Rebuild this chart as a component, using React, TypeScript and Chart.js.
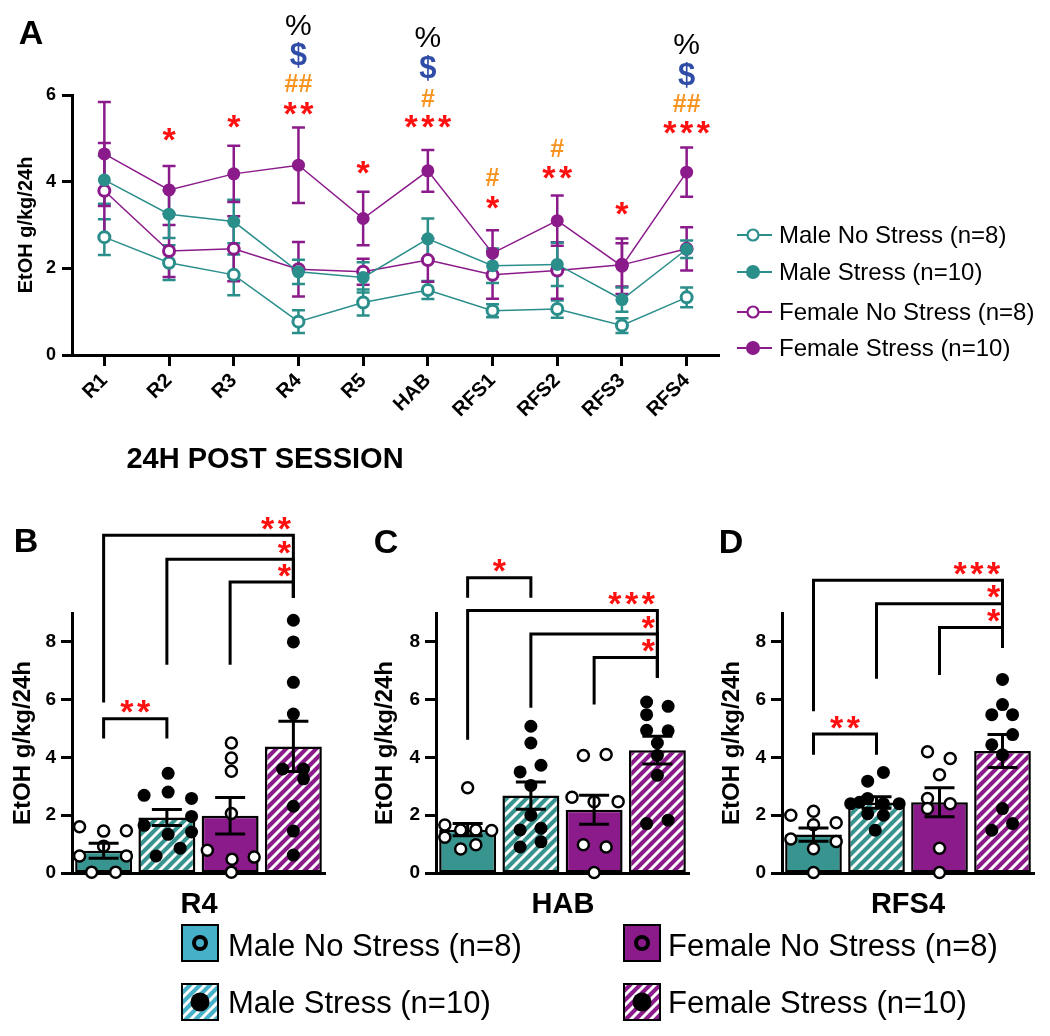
import React, { useEffect, useRef } from 'react';
import { Chart, registerables } from 'chart.js';

Chart.register(...registerables);

const FONT = '"Liberation Sans", Arial, Helvetica, sans-serif';
const TEAL = '#2A8E8B';
const PURPLE = '#8B1A8B';
const BAR_TEAL = '#37948F';
const LEGEND_CYAN = '#46B0C8';
const RED = '#FF1010';
const ORANGE = '#F7931E';
const BLUE = '#2F4CA6';

// ---------------- Panel A data ----------------
const sessions = ['R1', 'R2', 'R3', 'R4', 'R5', 'HAB', 'RFS1', 'RFS2', 'RFS3', 'RFS4'];
const groupLabels = ['Male No Stress (n=8)', 'Male Stress (n=10)', 'Female No Stress (n=8)', 'Female Stress (n=10)'];

const maleNoStressMean = [2.72, 2.13, 1.85, 0.77, 1.21, 1.5, 1.02, 1.06, 0.68, 1.33];
const maleNoStressSem = [0.41, 0.4, 0.47, 0.26, 0.3, 0.21, 0.15, 0.2, 0.17, 0.23];
const maleStressMean = [4.04, 3.25, 3.08, 1.92, 1.79, 2.68, 2.06, 2.09, 1.28, 2.44];
const maleStressSem = [0.55, 0.55, 0.5, 0.28, 0.35, 0.47, 0.4, 0.5, 0.28, 0.2];
const femaleNoStressMean = [3.79, 2.4, 2.45, 1.98, 1.92, 2.19, 1.85, 1.95, 2.08, 2.45];
const femaleNoStressSem = [1.1, 0.6, 0.75, 0.63, 0.3, 0.5, 0.55, 0.65, 0.5, 0.5];
const femaleStressMean = [4.64, 3.81, 4.18, 4.38, 3.15, 4.25, 2.35, 3.1, 2.05, 4.22];
const femaleStressSem = [1.2, 0.55, 0.65, 0.87, 0.62, 0.48, 0.53, 0.58, 0.64, 0.57];

// significance marks above sessions (session index, symbol, level in y units)
const markSession = [1, 2, 3, 3, 3, 3, 4, 5, 5, 5, 5, 6, 6, 7, 7, 8, 9, 9, 9, 9];
const markText = ['*', '*', '%', '$', '##', '**', '*', '%', '$', '#', '***', '#', '*', '#', '**', '*', '%', '$', '##', '***'];
const markLevel = [5.08, 5.38, 7.62, 6.92, 6.28, 5.7, 4.32, 7.34, 6.62, 5.93, 5.38, 4.11, 3.53, 4.78, 4.22, 3.39, 7.18, 6.46, 5.82, 5.26];

// ---------------- Panel B (R4) individual values ----------------
const r4MaleNoStress = [1.6, 1.45, 1.46, 0.93, 0.59, 0.59, 0.03, 0.03];
const r4MaleNoStressJitter = [-0.38, 0, 0.36, 0, -0.38, 0.36, -0.19, 0.19];
const r4MaleStress = [3.45, 2.69, 2.8, 2.58, 1.96, 1.65, 1.34, 1.42, 0.86, 0.59];
const r4MaleStressJitter = [0.02, -0.36, 0.02, 0.39, 0.39, -0.36, 0.02, 0.39, 0.21, -0.17];
const r4FemaleNoStress = [4.5, 3.98, 3.52, 2.06, 0.79, 0.48, 0.55, 0.03];
const r4FemaleNoStressJitter = [0.02, 0.02, 0.02, 0.02, -0.36, 0.03, 0.38, 0.02];
const r4FemaleStress = [8.75, 8.0, 6.6, 5.5, 3.6, 3.6, 3.26, 2.31, 1.45, 0.62];
const r4FemaleStressJitter = [0, 0, 0, 0, -0.17, 0.16, 0.16, 0, 0, 0];
// brackets: [from group, to group, level, left leg end, right leg end, label]
const r4Brackets = [
  [0, 1, 5.34, 4.66, 4.66, '**'],
  [0, 3, 11.69, 5.9, 9.52, '**'],
  [1, 3, 10.86, 7.21, 9.52, '*'],
  [2, 3, 10.07, 7.21, 9.52, '*'],
];

// ---------------- Panel C (HAB) ----------------
const habMaleNoStress = [2.95, 1.66, 1.49, 1.49, 1.47, 1.24, 0.83, 0.98];
const habMaleNoStressJitter = [0, -0.36, -0.11, 0.13, 0.38, -0.36, -0.11, 0.13];
const habMaleStress = [5.08, 4.5, 3.5, 3.73, 3.03, 2.0, 1.49, 1.55, 0.9, 1.08];
const habMaleStressJitter = [0, 0, -0.17, 0.16, 0, 0, -0.17, 0.16, -0.17, 0.16];
const habFemaleNoStress = [4.07, 4.1, 2.62, 2.47, 2.47, 0.98, 0.9, 0.02];
const habFemaleNoStressJitter = [-0.17, 0.19, -0.35, 0, 0.38, -0.17, 0.19, 0];
const habFemaleStress = [5.92, 5.77, 5.48, 4.94, 4.92, 4.5, 4.07, 3.38, 1.71, 1.83];
const habFemaleStressJitter = [-0.17, 0.17, -0.17, -0.17, 0.17, 0, 0, 0, -0.17, 0.17];
const habBrackets = [
  [0, 1, 10.22, 9.53, 9.53, '*'],
  [0, 3, 9.09, 4.61, 6.76, '***'],
  [1, 3, 8.27, 5.72, 6.76, '*'],
  [2, 3, 7.46, 5.83, 6.76, '*'],
];

// ---------------- Panel D (RFS4) ----------------
const rfs4MaleNoStress = [2.0, 2.14, 1.74, 1.67, 1.18, 1.09, 0.84, 0.02];
const rfs4MaleNoStressJitter = [-0.36, 0, 0.36, 0, -0.36, 0.36, 0, 0];
const rfs4MaleStress = [3.48, 3.18, 2.4, 2.58, 2.4, 2.4, 2.05, 2.0, 1.48, 2.45];
const rfs4MaleStressJitter = [0.11, -0.14, -0.41, -0.14, 0.11, 0.36, -0.14, 0.11, -0.02, -0.27];
const rfs4FemaleNoStress = [4.2, 3.96, 3.4, 2.58, 2.4, 2.23, 0.86, 0.02];
const rfs4FemaleNoStressJitter = [-0.19, 0.17, 0, -0.19, 0.17, -0.19, 0, 0];
const rfs4FemaleStress = [6.7, 5.83, 5.48, 5.48, 4.79, 4.44, 4.09, 2.23, 1.48, 1.71];
const rfs4FemaleStressJitter = [0, 0, -0.17, 0.16, 0.16, -0.17, 0, 0, -0.17, 0.16];
const rfs4Brackets = [
  [0, 1, 4.81, 4.09, 4.09, '**'],
  [0, 3, 10.13, 5.6, 7.8, '***'],
  [1, 3, 9.32, 6.72, 7.8, '*'],
  [2, 3, 8.5, 6.85, 7.8, '*'],
];

const meansAt = (idx: number) => [maleNoStressMean[idx], maleStressMean[idx], femaleNoStressMean[idx], femaleStressMean[idx]];
const semsAt = (idx: number) => [maleNoStressSem[idx], maleStressSem[idx], femaleNoStressSem[idx], femaleStressSem[idx]];

// ---------------- drawing helpers ----------------
function markStyle(t: string) {
  const c = t[0];
  if (c === '*') return { font: `bold 34px ${FONT}`, color: RED, step: 16.7 };
  if (c === '#') return { font: `bold 25px ${FONT}`, color: ORANGE, step: 14 };
  if (c === '$') return { font: `bold 31px ${FONT}`, color: BLUE, step: 17 };
  return { font: `30px ${FONT}`, color: '#000', step: 27 };
}

function drawMark(ctx: CanvasRenderingContext2D, text: string, cx: number, cy: number) {
  const st = markStyle(text);
  ctx.save();
  ctx.font = st.font;
  ctx.fillStyle = st.color;
  ctx.textAlign = 'center';
  ctx.textBaseline = 'alphabetic';
  const m = ctx.measureText(text[0]);
  const base = cy + (m.actualBoundingBoxAscent - m.actualBoundingBoxDescent) / 2;
  const n = text.length;
  for (let i = 0; i < n; i++) ctx.fillText(text[i], cx + (i - (n - 1) / 2) * st.step, base);
  ctx.restore();
}

function makeHatch(color: string) {
  const c = document.createElement('canvas');
  c.width = 10;
  c.height = 10;
  const g = c.getContext('2d')!;
  g.fillStyle = color;
  g.fillRect(0, 0, 10, 10);
  g.strokeStyle = '#fff';
  g.lineWidth = 3;
  g.beginPath();
  g.moveTo(-5, 5); g.lineTo(5, -5);
  g.moveTo(0, 10); g.lineTo(10, 0);
  g.moveTo(5, 15); g.lineTo(15, 5);
  g.stroke();
  return g.createPattern(c, 'repeat');
}

const axisCommon = {
  grid: { display: true, drawOnChartArea: false, drawTicks: true, tickLength: 10, tickWidth: 3, tickColor: '#000' },
  border: { display: true, color: '#000', width: 3 },
};

// ---------------- Panel A config ----------------
const semsA = [maleNoStressSem, maleStressSem, femaleNoStressSem, femaleStressSem];
const colorsA = [TEAL, TEAL, PURPLE, PURPLE];

const errorBarsA = {
  id: 'errorBarsA',
  beforeDatasetsDraw(chart: any) {
    const { ctx, scales } = chart;
    const x = scales.x, y = scales.y;
    [0, 2, 1, 3].forEach((di) => {
      const data = chart.data.datasets[di].data as number[];
      ctx.save();
      ctx.strokeStyle = colorsA[di];
      ctx.lineWidth = 2.5;
      data.forEach((m, i) => {
        const px = x.getPixelForValue(i);
        const top = y.getPixelForValue(m + semsA[di][i]);
        const bot = y.getPixelForValue(m - semsA[di][i]);
        ctx.beginPath();
        ctx.moveTo(px, top); ctx.lineTo(px, bot);
        ctx.moveTo(px - 6.5, top); ctx.lineTo(px + 6.5, top);
        ctx.moveTo(px - 6.5, bot); ctx.lineTo(px + 6.5, bot);
        ctx.stroke();
      });
      ctx.restore();
    });
  },
};

const marksA = {
  id: 'marksA',
  afterDraw(chart: any) {
    const { ctx, scales } = chart;
    markText.forEach((t, i) => {
      drawMark(ctx, t, scales.x.getPixelForValue(markSession[i]), scales.y.getPixelForValue(markLevel[i]));
    });
  },
};

function configA(): any {
  const mk = (label: string, data: number[], color: string, open: boolean, order: number) => ({
    type: 'line',
    label,
    data,
    borderColor: color,
    backgroundColor: color,
    borderWidth: 1.5,
    pointRadius: open ? 5.5 : 6.5,
    pointHoverRadius: open ? 5.5 : 6.5,
    pointBorderWidth: open ? 3 : 0,
    pointBackgroundColor: open ? '#fff' : color,
    pointBorderColor: color,
    order,
    clip: false,
  });
  return {
    type: 'line',
    data: {
      labels: sessions,
      datasets: [
        mk(groupLabels[0], maleNoStressMean, TEAL, true, 3),
        mk(groupLabels[1], maleStressMean, TEAL, false, 1),
        mk(groupLabels[2], femaleNoStressMean, PURPLE, true, 2),
        mk(groupLabels[3], femaleStressMean, PURPLE, false, 0),
      ],
    },
    options: {
      animation: false,
      responsive: false,
      events: [],
      layout: { padding: { left: 12, right: 331, top: 95, bottom: 45 } },
      plugins: { legend: { display: false }, tooltip: { enabled: false } },
      scales: {
        x: {
          type: 'category',
          offset: true,
          ...axisCommon,
          grid: { ...axisCommon.grid, tickLength: 11, offset: false },
          ticks: { color: '#000', font: { family: FONT, size: 20, weight: 'bold' }, minRotation: 45, maxRotation: 45, padding: 3, autoSkip: false },
          afterFit: (s: any) => { s.height = 80; },
        },
        y: {
          min: 0,
          max: 6,
          ...axisCommon,
          ticks: { stepSize: 2, color: '#000', font: { family: FONT, size: 18, weight: 'bold' }, padding: 6 },
          title: { display: true, text: 'EtOH g/kg/24h', color: '#000', font: { family: FONT, size: 20, weight: 'bold', lineHeight: 1 }, padding: { top: 4, bottom: 0 } },
          afterFit: (s: any) => { s.width = 60; },
        },
      },
    },
    plugins: [errorBarsA, marksA],
  };
}

// ---------------- Bar panel config ----------------
function barConfig(p: any, pats: any, padLeft: number, padRight: number, titlePad: number): any {
  const fills = [BAR_TEAL, pats.teal, PURPLE, pats.purple];
  const open = [true, false, true, false];
  const errPlugin = {
    id: 'errBars',
    afterDatasetsDraw(chart: any) {
      const { ctx, scales } = chart;
      ctx.save();
      ctx.strokeStyle = '#000';
      ctx.lineWidth = 3;
      p.means.forEach((m: number, g: number) => {
        const px = scales.x.getPixelForValue(g);
        const top = scales.y.getPixelForValue(m + p.sems[g]);
        const bot = scales.y.getPixelForValue(m - p.sems[g]);
        ctx.beginPath();
        ctx.moveTo(px, top); ctx.lineTo(px, bot);
        ctx.moveTo(px - 15, top); ctx.lineTo(px + 15, top);
        ctx.moveTo(px - 15, bot); ctx.lineTo(px + 15, bot);
        ctx.stroke();
      });
      ctx.restore();
    },
    afterDraw(chart: any) {
      const { ctx, scales } = chart;
      p.brackets.forEach((b: any[]) => {
        const [from, to, level, lEnd, rEnd, label] = b;
        const x1 = scales.x.getPixelForValue(from);
        const x2 = scales.x.getPixelForValue(to);
        const yl = scales.y.getPixelForValue(level);
        ctx.save();
        ctx.strokeStyle = '#000';
        ctx.lineWidth = 3;
        ctx.lineJoin = 'miter';
        ctx.beginPath();
        ctx.moveTo(x1, scales.y.getPixelForValue(lEnd));
        ctx.lineTo(x1, yl);
        ctx.lineTo(x2, yl);
        ctx.lineTo(x2, scales.y.getPixelForValue(rEnd));
        ctx.stroke();
        ctx.restore();
        const st = markStyle(label);
        let cx;
        if (to - from === 1 && lEnd === rEnd) cx = (x1 + x2) / 2;
        else cx = x2 - 9 - ((label.length - 1) / 2) * st.step;
        drawMark(ctx, label, cx, yl - 12);
      });
    },
  };
  return {
    type: 'bar',
    data: {
      labels: groupLabels,
      datasets: [
        {
          type: 'bar',
          data: p.means,
          backgroundColor: fills,
          borderColor: '#000',
          borderWidth: 2.5,
          borderSkipped: false,
          barPercentage: 0.9,
          categoryPercentage: 1,
          grouped: false,
          order: 5,
          xAxisID: 'x',
          yAxisID: 'y',
        },
        ...p.points.map((vals: number[], g: number) => ({
          type: 'scatter',
          data: vals.map((v, i) => ({ x: g + p.jitter[g][i], y: v })),
          xAxisID: 'xs',
          yAxisID: 'y',
          pointRadius: open[g] ? 5.5 : 6.5,
          pointHoverRadius: open[g] ? 5.5 : 6.5,
          pointBorderWidth: open[g] ? 2.5 : 0,
          pointBackgroundColor: open[g] ? '#fff' : '#000',
          pointBorderColor: '#000',
          showLine: false,
          order: 1,
          clip: false,
        })),
      ],
    },
    options: {
      animation: false,
      responsive: false,
      events: [],
      layout: { padding: { left: padLeft, right: padRight, top: 133, bottom: 27 } },
      plugins: { legend: { display: false }, tooltip: { enabled: false } },
      scales: {
        x: {
          type: 'category',
          offset: true,
          ticks: { display: false },
          grid: { display: false },
          border: { display: true, color: '#000', width: 3 },
          afterFit: (s: any) => { s.height = 0; },
        },
        xs: { type: 'linear', min: -0.5, max: 3.5, offset: false, grace: 0, display: false },
        y: {
          min: 0,
          max: 9,
          ...axisCommon,
          grid: { ...axisCommon.grid, tickLength: 11 },
          ticks: { stepSize: 2, includeBounds: false, color: '#000', font: { family: FONT, size: 19, weight: 'bold' }, padding: 5 },
          title: { display: true, text: 'EtOH g/kg/24h', color: '#000', font: { family: FONT, size: 24, weight: 'bold', lineHeight: 1 }, padding: { top: titlePad, bottom: 0 } },
          afterFit: (s: any) => { s.width = 70; },
        },
      },
    },
    plugins: [errPlugin],
  };
}

const r4Panel = {
  means: meansAt(sessions.indexOf('R4')),
  sems: semsAt(sessions.indexOf('R4')),
  points: [r4MaleNoStress, r4MaleStress, r4FemaleNoStress, r4FemaleStress],
  jitter: [r4MaleNoStressJitter, r4MaleStressJitter, r4FemaleNoStressJitter, r4FemaleStressJitter],
  brackets: r4Brackets,
};
const habPanel = {
  means: meansAt(sessions.indexOf('HAB')),
  sems: semsAt(sessions.indexOf('HAB')),
  points: [habMaleNoStress, habMaleStress, habFemaleNoStress, habFemaleStress],
  jitter: [habMaleNoStressJitter, habMaleStressJitter, habFemaleNoStressJitter, habFemaleStressJitter],
  brackets: habBrackets,
};
const rfs4Panel = {
  means: meansAt(sessions.indexOf('RFS4')),
  sems: semsAt(sessions.indexOf('RFS4')),
  points: [rfs4MaleNoStress, rfs4MaleStress, rfs4FemaleNoStress, rfs4FemaleStress],
  jitter: [rfs4MaleNoStressJitter, rfs4MaleStressJitter, rfs4FemaleNoStressJitter, rfs4FemaleStressJitter],
  brackets: rfs4Brackets,
};

// ---------------- HTML pieces ----------------
const Label = ({ x, y, size, bold = true, anchor = 'center', children }: any) => (
  <div
    style={{
      position: 'absolute',
      left: x,
      top: y,
      transform: anchor === 'center' ? 'translate(-50%,-50%)' : 'translate(0,-50%)',
      whiteSpace: 'nowrap',
      lineHeight: 1,
      fontFamily: FONT,
      fontSize: size,
      fontWeight: bold ? 700 : 400,
      color: '#000',
    }}
  >
    {children}
  </div>
);

const legendARows = [
  { color: TEAL, open: true, y: 235 },
  { color: TEAL, open: false, y: 272 },
  { color: PURPLE, open: true, y: 312 },
  { color: PURPLE, open: false, y: 348 },
];

const legendBRows = [
  { x: 181, y: 943, fill: LEGEND_CYAN, hatch: false, open: true },
  { x: 181, y: 1002, fill: LEGEND_CYAN, hatch: true, open: false },
  { x: 623, y: 943, fill: PURPLE, hatch: false, open: true },
  { x: 623, y: 1002, fill: PURPLE, hatch: true, open: false },
];

export default function App() {
  const aRef = useRef<HTMLCanvasElement>(null);
  const bRef = useRef<HTMLCanvasElement>(null);
  const cRef = useRef<HTMLCanvasElement>(null);
  const dRef = useRef<HTMLCanvasElement>(null);

  useEffect(() => {
    const pats = { teal: makeHatch(BAR_TEAL), purple: makeHatch(PURPLE) };
    const charts = [
      new Chart(aRef.current!, configA()),
      new Chart(bRef.current!, barConfig(r4Panel, pats, 2, 25, 9)),
      new Chart(cRef.current!, barConfig(habPanel, pats, 16, 11, 7)),
      new Chart(dRef.current!, barConfig(rfs4Panel, pats, 12, 16, 8)),
    ];
    return () => charts.forEach((c) => c.destroy());
  }, []);

  const cv = (left: number, top: number, w: number, h: number): any => ({
    position: 'absolute', left, top, width: w, height: h, display: 'block',
  });

  return (
    <div style={{ position: 'absolute', left: 0, top: 0, width: 1050, height: 1036, background: '#fff', overflow: 'hidden' }}>
      <canvas ref={aRef} width={1050} height={480} style={cv(0, 0, 1050, 480)} />
      <canvas ref={bRef} width={350} height={420} style={cv(0, 480, 350, 420)} />
      <canvas ref={cRef} width={350} height={420} style={cv(350, 480, 350, 420)} />
      <canvas ref={dRef} width={350} height={420} style={cv(700, 480, 350, 420)} />

      <Label x={31} y={32} size={34}>A</Label>
      <Label x={26} y={540} size={34}>B</Label>
      <Label x={386} y={541} size={34}>C</Label>
      <Label x={731} y={541} size={34}>D</Label>

      <Label x={265} y={458} size={29}>24H POST SESSION</Label>
      <Label x={199} y={903} size={29}>R4</Label>
      <Label x={563} y={903} size={29}>HAB</Label>
      <Label x={908} y={903} size={29}>RFS4</Label>

      {legendARows.map((r, i) => (
        <React.Fragment key={'la' + i}>
          <svg style={{ position: 'absolute', left: 735, top: r.y - 10 }} width={40} height={20}>
            <line x1={2} y1={10} x2={37} y2={10} stroke={r.color} strokeWidth={1.8} />
            {r.open ? (
              <circle cx={18} cy={10} r={5.5} fill="#fff" stroke={r.color} strokeWidth={2.2} />
            ) : (
              <circle cx={18} cy={10} r={7} fill={r.color} />
            )}
          </svg>
          <Label x={779} y={r.y} size={24} bold={false} anchor="left">{groupLabels[i]}</Label>
        </React.Fragment>
      ))}

      <svg style={{ position: 'absolute', left: 0, top: 0, pointerEvents: 'none' }} width={1050} height={1036}>
        <defs>
          <pattern id="hatchCyan" width="10" height="10" patternUnits="userSpaceOnUse">
            <rect width="10" height="10" fill={LEGEND_CYAN} />
            <path d="M-5,5 L5,-5 M0,10 L10,0 M5,15 L15,5" stroke="#fff" strokeWidth="3" />
          </pattern>
          <pattern id="hatchPurple" width="10" height="10" patternUnits="userSpaceOnUse">
            <rect width="10" height="10" fill={PURPLE} />
            <path d="M-5,5 L5,-5 M0,10 L10,0 M5,15 L15,5" stroke="#fff" strokeWidth="3" />
          </pattern>
        </defs>
        {legendBRows.map((r, i) => (
          <g key={'lb' + i}>
            <rect
              x={r.x + 1}
              y={r.y - 18}
              width={36}
              height={36}
              fill={r.hatch ? (r.fill === PURPLE ? 'url(#hatchPurple)' : 'url(#hatchCyan)') : r.fill}
              stroke="#000"
              strokeWidth={2}
            />
            {r.open ? (
              <circle cx={r.x + 19} cy={r.y} r={6} fill="none" stroke="#000" strokeWidth={4} />
            ) : (
              <circle cx={r.x + 19} cy={r.y} r={9.5} fill="#000" />
            )}
          </g>
        ))}
      </svg>
      <Label x={228} y={945} size={31} bold={false} anchor="left">{groupLabels[0]}</Label>
      <Label x={228} y={1002} size={31} bold={false} anchor="left">{groupLabels[1]}</Label>
      <Label x={668} y={945} size={31} bold={false} anchor="left">{groupLabels[2]}</Label>
      <Label x={668} y={1002} size={31} bold={false} anchor="left">{groupLabels[3]}</Label>
    </div>
  );
}
